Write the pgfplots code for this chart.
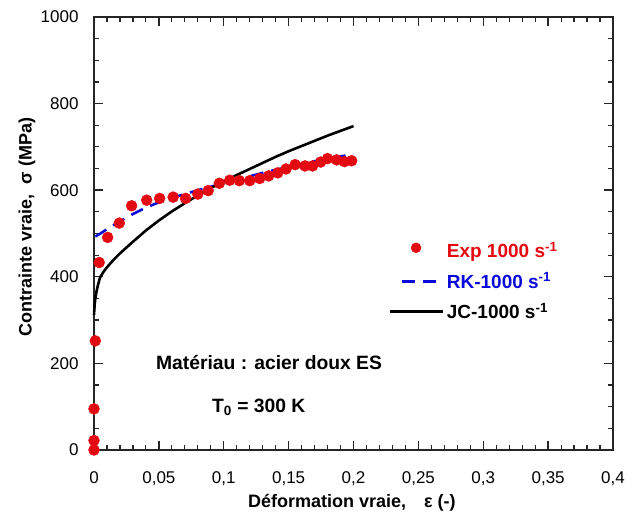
\documentclass[border=0pt]{standalone}
\usepackage{pgfplots}
\pgfplotsset{compat=1.18}
\usepackage{fontspec}
\setmainfont{Liberation Sans}
\usetikzlibrary{calc}
\definecolor{expred}{RGB}{228,10,18}
\definecolor{rkblue}{RGB}{10,10,220}
\pgfplotsset{
  expimg/.style={legend image code/.code={\path[draw=none,fill=none] (0pt,0pt) -- (53pt,0pt); \draw[##1, mark size=5pt] plot coordinates {(26.5pt,3pt)};}},
  rkimg/.style={legend image code/.code={\path[draw=none,fill=none] (0pt,0pt) -- (53pt,0pt); \draw[##1] (12pt,0pt) -- (50pt,0pt);}},
  jcimg/.style={legend image code/.code={\draw[##1] (0pt,0pt) -- (53pt,0pt);}},
}
\begin{document}
\begin{tikzpicture}
\begin{axis}[name=ax,
  scale only axis, width=519pt, height=433pt,
  xmin=0, xmax=0.4, ymin=0, ymax=1000,
  xtick={0,0.05,0.1,0.15,0.2,0.25,0.3,0.35,0.4},
  xticklabels={0,{0,05},{0,1},{0,15},{0,2},{0,25},{0,3},{0,35},{0,4}},
  ytick={0,200,400,600,800,1000},
  yticklabels={0,200,400,600,800,1000},
  minor x tick num=4, minor y tick num=3,
  xtick pos=both, ytick pos=both,
  tick align=inside,
  major tick length=9pt, minor tick length=5pt,
  axis line style={line width=1.3pt, black!85},
  every major tick/.append style={line width=1.4pt, draw=black!85},
  every minor tick/.append style={line width=1.2pt, draw=black!85},
  tick label style={font=\fontsize{17}{20}\selectfont},
  xticklabel style={yshift=-18pt},
  yticklabel style={xshift=-12pt},
  xlabel={\textbf{Déformation vraie,\quad ε (-)}},
  ylabel={\textbf{Contrainte vraie,\ \ σ (MPa)}},
  label style={font=\fontsize{18}{21}\selectfont},
  xlabel style={at={(axis description cs:0.497,-0.122)}, anchor=center},
  ylabel style={at={(axis description cs:-0.129,0.515)}, anchor=center},
  legend style={at={(axis description cs:0.5608,0.487)}, anchor=north west,
    draw=none, fill=none, font=\fontsize{19}{22}\selectfont\bfseries,
    row sep=11.5pt, column sep=2pt, nodes={inner sep=1pt}},
  legend cell align=left,
  clip=false,
]
\addplot[only marks, mark=*, mark size=5.5pt, color=expred, expimg]
coordinates {
(0,0) (0,22) (0,95) (0.001,252) (0.004,433) (0.0105,491) (0.0195,524)
(0.029,564) (0.0406,577) (0.0506,581) (0.061,584) (0.0706,581) (0.080,591)
(0.088,599) (0.0966,616) (0.1046,623) (0.112,622) (0.120,622) (0.1277,627)
(0.1346,633) (0.1416,640) (0.148,649) (0.155,659) (0.1626,656) (0.1685,656)
(0.1747,665) (0.180,673) (0.187,670) (0.193,666) (0.1986,668)
};
\addlegendentry{\textcolor{expred}{Exp 1000 s\textsuperscript{-1}}}
\addplot[no marks, color=rkblue, line width=2.6pt, dash pattern=on 13pt off 8pt, rkimg]
coordinates {
(0.001,493) (0.005,500) (0.01,510) (0.02,528) (0.03,545) (0.04,560) (0.05,572)
(0.06,582) (0.07,591) (0.08,600) (0.09,608) (0.1,616) (0.11,624) (0.12,632)
(0.13,640) (0.14,647) (0.15,654) (0.16,661) (0.17,667) (0.18,673) (0.19,678) (0.2,683)
};
\addlegendentry{\textcolor{rkblue}{RK-1000 s\textsuperscript{-1}}}
\addplot[no marks, color=black, line width=2.6pt, jcimg]
coordinates {
(0,312) (0.0005,335) (0.001,350) (0.002,367) (0.003,380) (0.0046,398) (0.007,410)
(0.01,422) (0.015,439) (0.02,454) (0.03,481) (0.04,507) (0.05,530) (0.06,551)
(0.07,570) (0.08,588) (0.09,605) (0.1,620) (0.11,635) (0.12,649) (0.13,663)
(0.14,677) (0.15,690) (0.16,702) (0.17,714) (0.18,726) (0.19,737) (0.2,748)
};
\addlegendentry{JC-1000 s\textsuperscript{-1}}
\node[font=\fontsize{19.3}{22}\selectfont\bfseries] at (axis cs:0.1349,201) {Matériau : acier doux ES};
\node[font=\fontsize{19.3}{22}\selectfont\bfseries] at (axis cs:0.127,99) {T\textsubscript{0} = 300 K};
\end{axis}
\pgfresetboundingbox
\path ($(ax.south west)+(-94pt,-63pt)$) rectangle ($(ax.north east)+(29pt,17pt)$);
\end{tikzpicture}
\end{document}
